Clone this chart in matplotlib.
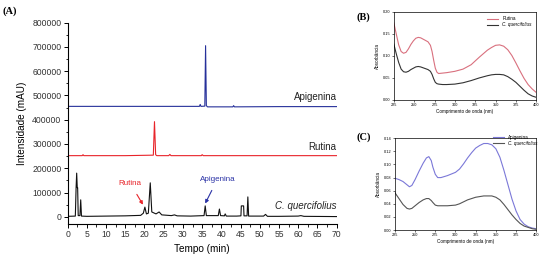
import matplotlib
matplotlib.use("Agg")
import matplotlib.pyplot as plt
from matplotlib.ticker import MultipleLocator

# ---------- Panel A data (chromatograms) ----------
api_t = [0, 5, 20, 34.3, 34.5, 34.7, 35.7, 35.9, 36.1, 36.4, 43.0, 43.2, 43.4, 55, 70]
api_y = [455000, 455000, 455000, 455000, 463000, 455000, 456000, 705000, 458000, 453000, 453000, 458000, 453000, 454000, 454000]

rut_t = [0, 3.8, 4.0, 4.2, 15, 22.3, 22.6, 22.9, 23.2, 26.3, 26.6, 26.9, 34.8, 35.0, 35.3, 50, 70]
rut_y = [252000, 252000, 256000, 252000, 252000, 254000, 392000, 256000, 252000, 252000, 257000, 252000, 252000, 256000, 252000, 252000, 252000]

cq_t = [0, 2.0, 2.2, 2.35, 2.5, 2.6, 2.75, 3.2, 3.4, 3.6, 5, 10, 15, 19, 19.7, 20.1, 20.5,
        21.0, 21.5, 21.9, 23, 23.8, 24.5, 27, 27.8, 28.5, 32, 35.5, 35.8, 36.1, 39.2, 39.5,
        39.8, 40.8, 41.0, 41.3, 44, 45.1, 45.2, 45.8, 45.9, 46.7, 46.9, 47.1, 51, 51.5, 52,
        55, 60, 60.7, 61.5, 70]
cq_y = [2000, 3000, 120000, 180000, 120000, 120000, 5000, 5000, 70000, 3000, 2000, 3000, 4000,
        6000, 15000, 40000, 12000, 15000, 140000, 20000, 12000, 20000, 8000, 5000, 8000, 4000,
        3000, 5000, 45000, 5000, 5000, 32000, 5000, 4000, 12000, 3000, 3000, 4000, 45000,
        45000, 4000, 4000, 82000, 3000, 3000, 10000, 2000, 2000, 3000, 5000, 2000, 1000]

a_xticks = list(range(0, 75, 5))
a_yticks = list(range(0, 800001, 100000))

# ---------- Panel B data (UV spectra) ----------
wl_b = [225, 228, 231, 234, 237, 240, 243, 246, 249, 252, 255, 258, 261, 264, 267, 270,
        272, 274, 276, 278, 280, 285, 290, 300, 310, 320, 330, 340, 345, 350, 355, 360,
        365, 370, 375, 380, 385, 390, 395, 400]
rut_abs = [0.175, 0.150, 0.125, 0.110, 0.106, 0.108, 0.116, 0.126, 0.134, 0.140, 0.142, 0.141,
           0.138, 0.135, 0.132, 0.124, 0.110, 0.090, 0.072, 0.063, 0.060, 0.061, 0.062, 0.065,
           0.070, 0.080, 0.097, 0.113, 0.119, 0.124, 0.125, 0.122, 0.114, 0.101, 0.084,
           0.066, 0.049, 0.035, 0.025, 0.017]
cqb_abs = [0.127, 0.105, 0.085, 0.070, 0.064, 0.063, 0.065, 0.069, 0.072, 0.075, 0.076, 0.075,
           0.073, 0.071, 0.069, 0.065, 0.058, 0.048, 0.040, 0.037, 0.036, 0.035, 0.035, 0.036,
           0.039, 0.044, 0.050, 0.055, 0.057, 0.058, 0.058, 0.057, 0.053, 0.047, 0.040,
           0.031, 0.022, 0.014, 0.009, 0.006]

# ---------- Panel C data (UV spectra) ----------
wl_c = [225, 230, 235, 240, 243, 246, 250, 255, 260, 264, 267, 270, 272, 275, 278, 282,
        290, 300, 305, 310, 315, 320, 325, 330, 335, 340, 345, 350, 355, 360, 365, 370,
        375, 380, 385, 390, 395, 400]
api_abs = [0.079, 0.077, 0.074, 0.069, 0.066, 0.068, 0.077, 0.090, 0.102, 0.110, 0.112, 0.106,
           0.096, 0.085, 0.080, 0.080, 0.083, 0.088, 0.093, 0.101, 0.110, 0.118, 0.125, 0.129,
           0.132, 0.132, 0.130, 0.124, 0.111, 0.091, 0.069, 0.047, 0.029, 0.016, 0.009,
           0.005, 0.003, 0.002]
cqc_abs = [0.057, 0.048, 0.039, 0.033, 0.032, 0.033, 0.037, 0.042, 0.046, 0.048, 0.048, 0.045,
           0.042, 0.038, 0.037, 0.037, 0.037, 0.038, 0.040, 0.043, 0.046, 0.048, 0.050, 0.051,
           0.052, 0.052, 0.052, 0.050, 0.046, 0.039, 0.031, 0.023, 0.016, 0.010, 0.006,
           0.004, 0.002, 0.001]

uv_xticks = list(range(225, 401, 25))

plt.rcParams['font.family'] = ['Liberation Sans', 'DejaVu Sans']

fig = plt.figure(figsize=(5.5, 2.57), dpi=100)

# ---------------- Panel A ----------------
axA = fig.add_axes([0.123, 0.128, 0.489, 0.784])
axA.plot(api_t, api_y, color='#26309a', lw=0.8)
axA.plot(rut_t, rut_y, color='#e8242a', lw=0.8)
axA.plot(cq_t, cq_y, color='#111111', lw=0.8)
axA.set_xlim(0, 70)
axA.set_ylim(-30000, 800000)
axA.set_xticks(a_xticks)
axA.set_yticks(a_yticks)
axA.xaxis.set_minor_locator(MultipleLocator(2.5))
axA.yaxis.set_minor_locator(MultipleLocator(50000))
axA.spines['top'].set_visible(False)
axA.spines['right'].set_visible(False)
axA.tick_params(axis='both', which='major', labelsize=6.2, length=3, width=0.7, pad=1.5,
                labelcolor='#333333')
axA.tick_params(axis='both', which='minor', length=1.8, width=0.6)
axA.set_xlabel('Tempo (min)', fontsize=7.2, labelpad=3)
axA.set_ylabel('Intensidade (mAU)', fontsize=7.2, labelpad=4)
axA.text(70, 495000, 'Apigenina', ha='right', va='center', fontsize=7, color='#222222')
axA.text(70, 289000, 'Rutina', ha='right', va='center', fontsize=7, color='#222222')
axA.text(70, 44000, 'C. quercifolius', ha='right', va='center', fontsize=7,
         style='italic', color='#222222')
axA.annotate('Rutina', xy=(19.6, 50000), xytext=(16.3, 138000), fontsize=5.8, color='#e8242a',
             ha='center', va='center',
             arrowprops=dict(arrowstyle='-|>', color='#e8242a', lw=0.8, mutation_scale=5,
                             shrinkA=4, shrinkB=0))
axA.annotate('Apigenina', xy=(35.8, 55000), xytext=(39.0, 155000), fontsize=5.8, color='#2a32a6',
             ha='center', va='center',
             arrowprops=dict(arrowstyle='-|>', color='#2a32a6', lw=0.8, mutation_scale=5,
                             shrinkA=4, shrinkB=0))
fig.text(0.005, 0.975, '(A)', fontsize=7.5, fontweight='bold', family='Liberation Serif',
         va='top', ha='left')

# ---------------- Panel B ----------------
axB = fig.add_axes([0.716, 0.611, 0.259, 0.343])
axB.plot(wl_b, rut_abs, color='#d9707e', lw=0.8, label='Rutina')
axB.plot(wl_b, cqb_abs, color='#333333', lw=0.8, label='C. quercifolius')
axB.set_xlim(225, 400)
axB.set_ylim(0, 0.2)
axB.set_xticks(uv_xticks)
axB.set_yticks([0.0, 0.05, 0.10, 0.15, 0.20])
axB.set_yticklabels(['0.00', '0.05', '0.10', '0.15', '0.20'])
axB.tick_params(axis='both', labelsize=2.8, length=1.2, width=0.4, pad=1)
for s in axB.spines.values():
    s.set_linewidth(0.5)
axB.set_xlabel('Comprimento de onda (nm)', fontsize=3.3, labelpad=1.5)
axB.set_ylabel('Absorbância', fontsize=3.3, labelpad=2)
legB = axB.legend(loc='upper right', fontsize=3.3, frameon=False, handlelength=2.5,
                  borderaxespad=0.6, labelspacing=0.2)
legB.get_texts()[1].set_style('italic')
fig.text(0.648, 0.935, '(B)', fontsize=7.5, fontweight='bold', family='Liberation Serif',
         va='center', ha='left')

# ---------------- Panel C ----------------
axC = fig.add_axes([0.718, 0.105, 0.257, 0.357])
axC.plot(wl_c, api_abs, color='#7b78d8', lw=0.8, label='Apigenina')
axC.plot(wl_c, cqc_abs, color='#555555', lw=0.8, label='C. quercifolius')
axC.set_xlim(225, 400)
axC.set_ylim(0, 0.14)
axC.set_xticks(uv_xticks)
axC.set_yticks([0.0, 0.02, 0.04, 0.06, 0.08, 0.10, 0.12, 0.14])
axC.set_yticklabels(['0.00', '0.02', '0.04', '0.06', '0.08', '0.10', '0.12', '0.14'])
axC.tick_params(axis='both', labelsize=2.8, length=1.2, width=0.4, pad=1)
for s in axC.spines.values():
    s.set_linewidth(0.5)
axC.set_xlabel('Comprimento de onda (nm)', fontsize=3.3, labelpad=1.5)
axC.set_ylabel('Absorbância', fontsize=3.3, labelpad=2)
legC = axC.legend(loc='upper right', fontsize=3.3, frameon=False, handlelength=2.5,
                  borderaxespad=0.0, labelspacing=0.2, bbox_to_anchor=(1.02, 1.06))
legC.get_texts()[1].set_style('italic')
fig.text(0.648, 0.465, '(C)', fontsize=7.5, fontweight='bold', family='Liberation Serif',
         va='center', ha='left')

fig.savefig('out.png', dpi=100)
